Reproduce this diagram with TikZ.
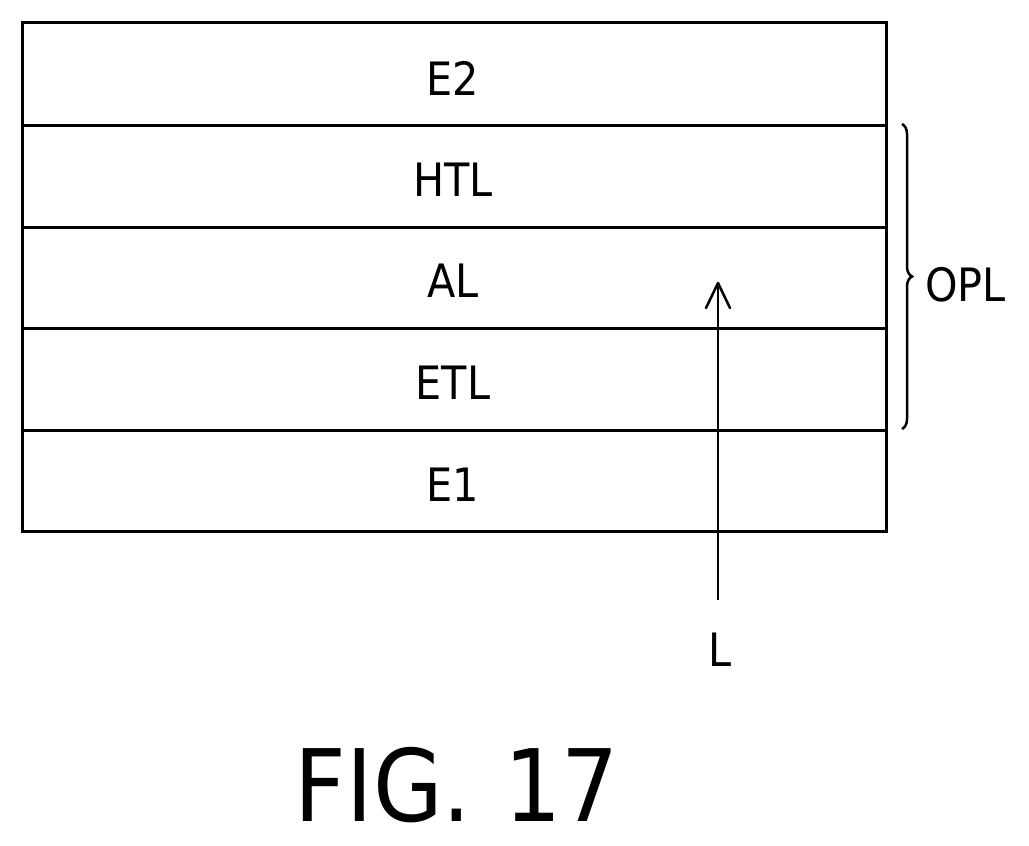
\documentclass[tikz,border=0pt]{standalone}
\usepackage{fontspec}
\setmainfont{DejaVu Sans Condensed}
\usetikzlibrary{decorations.pathreplacing,arrows.meta}
\begin{document}
\begin{tikzpicture}[x=1pt,y=-1pt,line width=2.5pt,
  lbl/.style={font=\fontsize{46}{46}\selectfont,inner sep=0pt}]
\useasboundingbox (0,0) rectangle (1029,846);
\foreach \n/\t/\b in {e2/21/124,htl/124/226,al/226/327,etl/327/429,e1/429/530}{
  \node[draw,line width=2.5pt,minimum width=864pt,minimum height={\b-\t},inner sep=0pt,anchor=north west] (\n) at (21,\t) {};}
\node[lbl] at (453,78) {E2};
\node[lbl] at (453,180) {HTL};
\node[lbl] at (453,281) {AL};
\node[lbl] at (453,383) {ETL};
\node[lbl] at (453,485) {E1};
\coordinate (as) at (718,600);
\coordinate (ae) at (718,283);
\draw (as) -- (ae);
\draw[line cap=round,line join=round] (706,308) -- (718,283) -- (730,308);
\node[lbl] (L) at (720,650) {L};
\draw[decorate,decoration={brace,amplitude=10pt}] (902,124) -- (902,429);
\node[lbl,anchor=west] (opl) at (924,285) {OPL};
\node[font=\fontsize{100}{100}\selectfont,inner sep=0pt] (fig) at (457,785) {FIG.\,\,17};
\end{tikzpicture}
\end{document}
